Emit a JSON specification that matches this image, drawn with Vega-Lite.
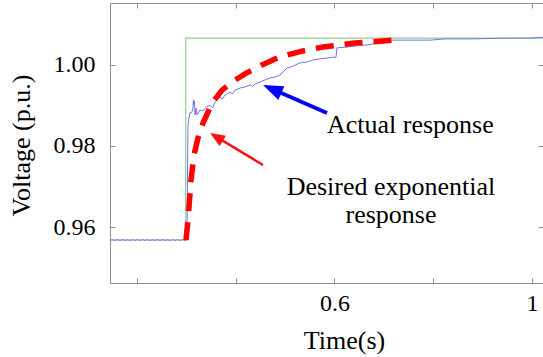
{
  "$schema": "https://vega.github.io/schema/vega-lite/v6.json",
  "width": 433,
  "height": 280,
  "autosize": "none",
  "padding": {"left": 110, "top": 3, "right": 0, "bottom": 74},
  "background": "white",
  "config": {
    "view": {"stroke": "#8f8f8f", "strokeWidth": 1},
    "font": "Liberation Serif",
    "axis": {
      "domain": false,
      "grid": false,
      "tickColor": "#8f8f8f",
      "tickSize": -5,
      "tickWidth": 1,
      "labelFont": "Liberation Serif",
      "labelFontSize": 24,
      "labelColor": "black",
      "titleFont": "Liberation Serif",
      "titleFontSize": 26,
      "titleFontWeight": "normal",
      "titleColor": "black"
    }
  },
  "datasets": {
    "green": [
      {"t": 0.1453, "v": 0.9568},
      {"t": 0.2986, "v": 0.9568},
      {"t": 0.2986, "v": 1.0065},
      {"t": 1.0223, "v": 1.0065}
    ],
    "blue": [
      {"t": 0.1453, "v": 0.9567}, {"t": 0.1504, "v": 0.9569}, {"t": 0.1554, "v": 0.9567}, {"t": 0.1605, "v": 0.9569},
      {"t": 0.1656, "v": 0.9567}, {"t": 0.1706, "v": 0.9569}, {"t": 0.1757, "v": 0.9567}, {"t": 0.1808, "v": 0.9569},
      {"t": 0.1858, "v": 0.9567}, {"t": 0.1909, "v": 0.9569}, {"t": 0.1960, "v": 0.9567}, {"t": 0.2010, "v": 0.9569},
      {"t": 0.2061, "v": 0.9567}, {"t": 0.2112, "v": 0.9569}, {"t": 0.2162, "v": 0.9567}, {"t": 0.2213, "v": 0.9569},
      {"t": 0.2264, "v": 0.9567}, {"t": 0.2314, "v": 0.9569}, {"t": 0.2365, "v": 0.9567}, {"t": 0.2416, "v": 0.9569},
      {"t": 0.2466, "v": 0.9567}, {"t": 0.2517, "v": 0.9569}, {"t": 0.2568, "v": 0.9567}, {"t": 0.2618, "v": 0.9569},
      {"t": 0.2669, "v": 0.9567}, {"t": 0.2720, "v": 0.9569}, {"t": 0.2770, "v": 0.9567}, {"t": 0.2821, "v": 0.9569},
      {"t": 0.2872, "v": 0.9567}, {"t": 0.2922, "v": 0.9569}, {"t": 0.2973, "v": 0.9567}, {"t": 0.3013, "v": 0.9568},
      {"t": 0.3023, "v": 0.9733}, {"t": 0.3033, "v": 0.9851}, {"t": 0.3053, "v": 0.9868}, {"t": 0.3073, "v": 0.9881},
      {"t": 0.3114, "v": 0.9883}, {"t": 0.3134, "v": 0.9893}, {"t": 0.3144, "v": 0.9913}, {"t": 0.3154, "v": 0.9900},
      {"t": 0.3164, "v": 0.9910}, {"t": 0.3175, "v": 0.9876}, {"t": 0.3195, "v": 0.9893}, {"t": 0.3215, "v": 0.9876},
      {"t": 0.3276, "v": 0.9888}, {"t": 0.3337, "v": 0.9886}, {"t": 0.3397, "v": 0.9895}, {"t": 0.3478, "v": 0.9900},
      {"t": 0.3530, "v": 0.9893}, {"t": 0.3580, "v": 0.9908}, {"t": 0.3681, "v": 0.9920}, {"t": 0.3730, "v": 0.9915},
      {"t": 0.3782, "v": 0.9925}, {"t": 0.3884, "v": 0.9932}, {"t": 0.3935, "v": 0.9928}, {"t": 0.3985, "v": 0.9937},
      {"t": 0.4086, "v": 0.9942}, {"t": 0.4187, "v": 0.9945}, {"t": 0.4289, "v": 0.9950}, {"t": 0.4340, "v": 0.9946},
      {"t": 0.4390, "v": 0.9952}, {"t": 0.4491, "v": 0.9957}, {"t": 0.4592, "v": 0.9962}, {"t": 0.4694, "v": 0.9967},
      {"t": 0.4795, "v": 0.9969}, {"t": 0.4896, "v": 0.9974}, {"t": 0.4957, "v": 0.9982}, {"t": 0.5038, "v": 0.9991},
      {"t": 0.5159, "v": 0.9996}, {"t": 0.5301, "v": 1.0004}, {"t": 0.5443, "v": 1.0006}, {"t": 0.5565, "v": 1.0011},
      {"t": 0.5706, "v": 1.0014}, {"t": 0.5848, "v": 1.0016}, {"t": 0.5970, "v": 1.0018}, {"t": 0.6030, "v": 1.0018},
      {"t": 0.6051, "v": 1.0041}, {"t": 0.6253, "v": 1.0043}, {"t": 0.6456, "v": 1.0046}, {"t": 0.6658, "v": 1.0048},
      {"t": 0.6759, "v": 1.0050}, {"t": 0.6861, "v": 1.0055}, {"t": 0.6982, "v": 1.0058}, {"t": 0.7124, "v": 1.0060},
      {"t": 0.7327, "v": 1.0060}, {"t": 0.7590, "v": 1.0060}, {"t": 0.7934, "v": 1.0060}, {"t": 0.8238, "v": 1.0063},
      {"t": 0.8744, "v": 1.0063}, {"t": 0.9149, "v": 1.0064}, {"t": 0.9554, "v": 1.0065}, {"t": 0.9959, "v": 1.0065},
      {"t": 1.0223, "v": 1.0067}
    ],
    "red": [
      {"t": 0.2992, "v": 0.9568}, {"t": 0.3033, "v": 0.9617}, {"t": 0.3094, "v": 0.9716}, {"t": 0.3154, "v": 0.9777},
      {"t": 0.3235, "v": 0.9819}, {"t": 0.3337, "v": 0.9856}, {"t": 0.3519, "v": 0.9905}, {"t": 0.3722, "v": 0.9937},
      {"t": 0.3924, "v": 0.9957}, {"t": 0.4187, "v": 0.9977}, {"t": 0.4532, "v": 0.9999}, {"t": 0.4896, "v": 1.0019},
      {"t": 0.5342, "v": 1.0033}, {"t": 0.5767, "v": 1.0043}, {"t": 0.6415, "v": 1.0053}, {"t": 0.6982, "v": 1.0058},
      {"t": 0.7165, "v": 1.0060}
    ],
    "blueArrow": [{"t": 0.5848, "v": 0.98806, "t2": 0.4738, "v2": 0.99397}],
    "blueHead": [{"t": 0.4738, "v": 0.99397}],
    "redArrow": [{"t": 0.4552, "v": 0.97526, "t2": 0.3608, "v2": 0.98218}],
    "redHead": [{"t": 0.3608, "v": 0.98218}],
    "labelsLeft": [{"t": 0.5848, "v": 0.98314, "text": "Actual response"}],
    "labelsCenter": [
      {"t": 0.7144, "v": 0.96788, "text": "Desired exponential"},
      {"t": 0.7144, "v": 0.96098, "text": "response"}
    ]
  },
  "resolve": {"axis": {"x": "independent", "y": "independent"}},
  "layer": [
    {
      "data": {"name": "green"},
      "mark": {"type": "line", "color": "#8fd08f", "strokeWidth": 1.2, "clip": true},
      "encoding": {
        "x": {"field": "t", "type": "quantitative",
              "scale": {"domain": [0.1453, 1.0223], "nice": false, "zero": false},
              "axis": {"orient": "bottom", "values": [0.2, 0.4, 0.6, 0.8, 1.0],
                       "labelExpr": "datum.value == 0.6 ? '0.6' : (datum.value == 1 ? '1' : '')",
                       "labelPadding": 32, "labelBaseline": "alphabetic",
                       "title": "Time(s)", "titleX": 234, "titleY": 65, "titleBaseline": "alphabetic", "titleAnchor": "middle"}},
        "y": {"field": "v", "type": "quantitative",
              "scale": {"domain": [0.94622, 1.01514], "nice": false, "zero": false},
              "axis": {"orient": "left", "values": [0.96, 0.98, 1.0], "format": ".2f",
                       "labelPadding": 20, "labelBaseline": "middle",
                       "title": "Voltage (p.u.)", "titleX": -80.5, "titleY": 142, "titleBaseline": "alphabetic", "titleAngle": -90}}
      }
    },
    {
      "data": {"name": "blue"},
      "mark": {"type": "line", "color": "#7474e8", "strokeWidth": 1, "clip": true},
      "encoding": {
        "x": {"field": "t", "type": "quantitative",
              "scale": {"domain": [0.1453, 1.0223], "nice": false, "zero": false},
              "axis": {"orient": "top", "values": [0.2, 0.4, 0.6, 0.8, 1.0], "labels": false, "title": null}},
        "y": {"field": "v", "type": "quantitative",
              "scale": {"domain": [0.94622, 1.01514], "nice": false, "zero": false},
              "axis": {"orient": "right", "values": [0.96, 0.98, 1.0], "labels": false, "title": null}}
      }
    },
    {
      "data": {"name": "red"},
      "mark": {"type": "line", "color": "#ff0000", "strokeWidth": 5.5, "strokeDash": [18, 11], "strokeCap": "butt", "clip": true},
      "encoding": {
        "x": {"field": "t", "type": "quantitative", "scale": {"domain": [0.1453, 1.0223], "nice": false, "zero": false}, "axis": null},
        "y": {"field": "v", "type": "quantitative", "scale": {"domain": [0.94622, 1.01514], "nice": false, "zero": false}, "axis": null}
      }
    },
    {
      "data": {"name": "blueArrow"},
      "mark": {"type": "rule", "color": "#0000ff", "strokeWidth": 4},
      "encoding": {
        "x": {"field": "t", "type": "quantitative", "scale": {"domain": [0.1453, 1.0223], "nice": false, "zero": false}, "axis": null},
        "y": {"field": "v", "type": "quantitative", "scale": {"domain": [0.94622, 1.01514], "nice": false, "zero": false}, "axis": null},
        "x2": {"field": "t2"},
        "y2": {"field": "v2"}
      }
    },
    {
      "data": {"name": "blueHead"},
      "mark": {"type": "point", "shape": "M0,-1L0.75,1L-0.75,1Z", "filled": true, "color": "#0000ff", "opacity": 1, "size": 400, "angle": 293.6},
      "encoding": {
        "x": {"field": "t", "type": "quantitative", "scale": {"domain": [0.1453, 1.0223], "nice": false, "zero": false}, "axis": null},
        "y": {"field": "v", "type": "quantitative", "scale": {"domain": [0.94622, 1.01514], "nice": false, "zero": false}, "axis": null}
      }
    },
    {
      "data": {"name": "redArrow"},
      "mark": {"type": "rule", "color": "#ff1010", "strokeWidth": 2.5},
      "encoding": {
        "x": {"field": "t", "type": "quantitative", "scale": {"domain": [0.1453, 1.0223], "nice": false, "zero": false}, "axis": null},
        "y": {"field": "v", "type": "quantitative", "scale": {"domain": [0.94622, 1.01514], "nice": false, "zero": false}, "axis": null},
        "x2": {"field": "t2"},
        "y2": {"field": "v2"}
      }
    },
    {
      "data": {"name": "redHead"},
      "mark": {"type": "point", "shape": "M0,-1L0.8,1L-0.8,1Z", "filled": true, "color": "#ff1010", "opacity": 1, "size": 225, "angle": 301.1},
      "encoding": {
        "x": {"field": "t", "type": "quantitative", "scale": {"domain": [0.1453, 1.0223], "nice": false, "zero": false}, "axis": null},
        "y": {"field": "v", "type": "quantitative", "scale": {"domain": [0.94622, 1.01514], "nice": false, "zero": false}, "axis": null}
      }
    },
    {
      "data": {"name": "labelsLeft"},
      "mark": {"type": "text", "font": "Liberation Serif", "fontSize": 26, "color": "black", "align": "left", "baseline": "alphabetic"},
      "encoding": {
        "x": {"field": "t", "type": "quantitative", "scale": {"domain": [0.1453, 1.0223], "nice": false, "zero": false}, "axis": null},
        "y": {"field": "v", "type": "quantitative", "scale": {"domain": [0.94622, 1.01514], "nice": false, "zero": false}, "axis": null},
        "text": {"field": "text"}
      }
    },
    {
      "data": {"name": "labelsCenter"},
      "mark": {"type": "text", "font": "Liberation Serif", "fontSize": 26, "color": "black", "align": "center", "baseline": "alphabetic"},
      "encoding": {
        "x": {"field": "t", "type": "quantitative", "scale": {"domain": [0.1453, 1.0223], "nice": false, "zero": false}, "axis": null},
        "y": {"field": "v", "type": "quantitative", "scale": {"domain": [0.94622, 1.01514], "nice": false, "zero": false}, "axis": null},
        "text": {"field": "text"}
      }
    }
  ]
}
